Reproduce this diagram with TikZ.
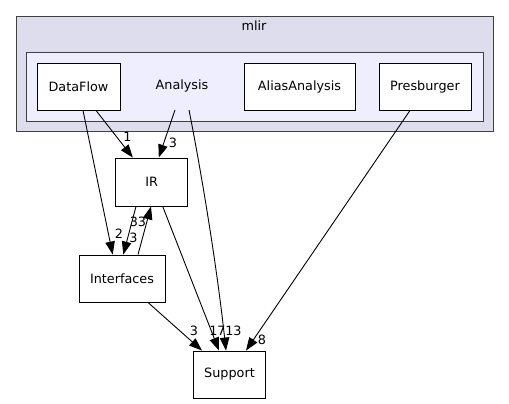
\documentclass[tikz,border=0pt]{standalone}
\usepackage{fontspec}
\setmainfont{DejaVu Sans}
\usetikzlibrary{arrows.meta}
\definecolor{edgec}{RGB}{0,0,0}
\definecolor{bordc}{RGB}{64,64,64}
\definecolor{outerc}{RGB}{221,221,238}
\definecolor{innerc}{RGB}{238,238,255}
\begin{document}
\begin{tikzpicture}[x=1pt,y=-1pt,
  every node/.style={font=\fontsize{12.8}{14}\selectfont, inner sep=0pt},
  dirbox/.style={draw=black, fill=white, line width=0.9pt},
  lbl/.style={font=\fontsize{12.8}{14}\selectfont},
  dep/.style={draw=edgec, line width=0.9pt, -{Triangle[length=13pt,width=9.5pt]}}]
\useasboundingbox (0,0) rectangle (509,404);
% clusters
\draw[bordc, fill=outerc, line width=0.9pt] (16,16) rectangle (493,131);
\node (mlir) at (254,26) {mlir};
\draw[bordc, fill=innerc, line width=0.9pt] (26,52) rectangle (483,121);
\node (Analysis) at (182,86) {Analysis};
% nodes
\node[dirbox, minimum width=83pt, minimum height=47pt] (DataFlow) at (78.5,86.5) {DataFlow};
\node[dirbox, minimum width=111pt, minimum height=47pt] (Alias) at (299.5,86.5) {AliasAnalysis};
\node[dirbox, minimum width=92pt, minimum height=47pt] (Presburger) at (425,86.5) {Presburger};
\node[dirbox, minimum width=72pt, minimum height=48pt] (IR) at (151.8,182) {IR};
\node[dirbox, minimum width=86pt, minimum height=47pt] (Interfaces) at (122,278.5) {Interfaces};
\node[dirbox, minimum width=72pt, minimum height=47pt] (Support) at (229.5,374.5) {Support};
% edges
\draw[dep] ([xshift=17.5pt]DataFlow.south) -- ([xshift=-19pt]IR.north);
\node[lbl] (l1) at (127.5,137) {1};
\draw[dep] ([xshift=-7pt,yshift=-24pt]Analysis.center) -- ([xshift=7pt]IR.north);
\node[lbl] (l2) at (173,142.5) {3};
\draw[dep] ([xshift=7pt,yshift=-24pt]Analysis.center) .. controls (197,150) and (215,250) .. ([xshift=-3.5pt]Support.north);
\node[lbl] (l3) at (233.5,330.5) {13};
\draw[dep] ([xshift=4.5pt]DataFlow.south) -- ([xshift=-9.3pt]Interfaces.north);
\node[lbl] (l4) at (119,234) {2};
\draw[dep] ([xshift=-15.8pt]IR.south) -- ([xshift=1.3pt]Interfaces.north);
\node[lbl] (l5) at (133.5,237.5) {3};
\draw[dep] ([xshift=16pt]Interfaces.north) -- ([xshift=-0.8pt]IR.south);
\node[lbl] (l6) at (138,221.5) {33};
\draw[dep] ([xshift=10.9pt]IR.south) -- ([xshift=-10.5pt]Support.north);
\node[lbl] (l7) at (217.5,330.5) {17};
\draw[dep] ([xshift=26pt]Interfaces.south) -- ([xshift=-27.5pt]Support.north);
\node[lbl] (l8) at (194,330.5) {3};
\draw[dep] ([xshift=-15pt]Presburger.south) -- ([xshift=16.5pt]Support.north);
\node[lbl] (l9) at (262,339.5) {8};
\end{tikzpicture}
\end{document}
